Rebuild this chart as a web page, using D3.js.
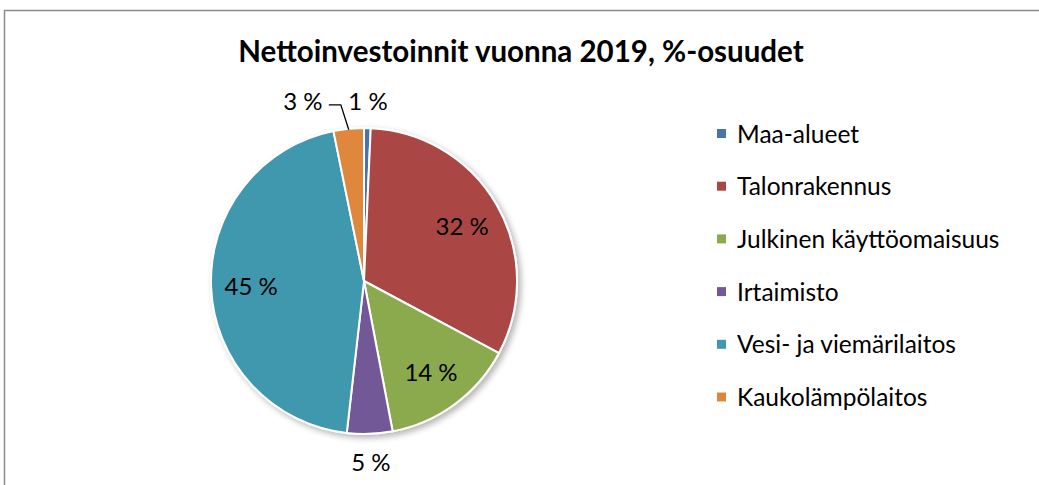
<!DOCTYPE html>
<html>
<head>
<meta charset="utf-8">
<script src="https://cdn.jsdelivr.net/npm/d3@7"></script>
<style>
  body { margin: 0; background: #fff; }
  text { font-family: Lato, "Liberation Sans", sans-serif; fill: #000; }
</style>
</head>
<body>
<div id="chart"></div>
<script>
const categories = ['Maa-alueet', 'Talonrakennus', 'Julkinen käyttöomaisuus', 'Irtaimisto', 'Vesi- ja viemärilaitos', 'Kaukolämpölaitos'];
const values = [0.7, 32.1, 14.2, 4.8, 45.0, 3.2];
const colors = ['#4674ab', '#aa4644', '#8baa4d', '#735897', '#4198af', '#de873c'];
const title = 'Nettoinvestoinnit vuonna 2019, %-osuudet';

const width = 1039, height = 485;
const cx = 364, cy = 281, R = 153;

const svg = d3.select('#chart').append('svg')
  .attr('width', width)
  .attr('height', height);

const defs = svg.append('defs');
const f = defs.append('filter').attr('id', 'shadow')
  .attr('x', '-20%').attr('y', '-20%').attr('width', '140%').attr('height', '140%');
f.append('feGaussianBlur').attr('in', 'SourceAlpha').attr('stdDeviation', 3);
f.append('feOffset').attr('dx', 3).attr('dy', 3).attr('result', 'b');
f.append('feComponentTransfer').append('feFuncA').attr('type', 'linear').attr('slope', 0.3);
const fm = f.append('feMerge');
fm.append('feMergeNode');
fm.append('feMergeNode').attr('in', 'SourceGraphic');

// chart frame
svg.append('rect')
  .attr('x', 4.5).attr('y', 10.5)
  .attr('width', width + 10).attr('height', height + 10)
  .attr('fill', 'none').attr('stroke', '#8c8c8c').attr('stroke-width', 1.5);

svg.append('text')
  .attr('x', 521).attr('y', 62)
  .attr('text-anchor', 'middle')
  .attr('font-size', 29.5).attr('font-weight', 'bold')
  .text(title);

const total = d3.sum(values);
const pie = d3.pie().sort(null).value(d => d)(values);
const arc = d3.arc().innerRadius(0).outerRadius(R);

const g = svg.append('g').attr('transform', `translate(${cx},${cy})`);

g.append('g').attr('filter', 'url(#shadow)')
  .selectAll('path')
  .data(pie)
  .enter()
  .append('path')
    .attr('d', arc)
    .attr('fill', (d, i) => colors[i])
    .attr('stroke', '#fff')
    .attr('stroke-width', 2)
    .attr('stroke-linejoin', 'round');

const inner = d3.arc().innerRadius(113).outerRadius(113);
const outer = d3.arc().innerRadius(181).outerRadius(181);
const edge = d3.arc().innerRadius(R - 1).outerRadius(R - 1);
const pct = v => Math.round(v / total * 100) + ' %';

// labels: big slices inside, small ones outside
pie.forEach((d, i) => {
  const big = d.value / total > 0.1;
  let [x, y] = (big ? inner : outer).centroid(d);
  const moved = i === 5; // the 3 % label was dragged aside in the original
  if (moved) x -= 43;
  g.append('text')
    .attr('x', x).attr('y', y)
    .attr('text-anchor', 'middle')
    .attr('dominant-baseline', 'central')
    .attr('font-size', 24)
    .text(pct(d.value));
  if (moved) {
    const [ex, ey] = edge.centroid(d);
    g.append('path')
      .attr('d', d3.line()([[x + 26, y + 4], [x + 38, y + 4], [ex, ey]]))
      .attr('fill', 'none').attr('stroke', '#000').attr('stroke-width', 1.3);
  }
});

const legend = svg.append('g').attr('transform', 'translate(717,133)');
const rows = legend.selectAll('g')
  .data(categories)
  .enter()
  .append('g')
    .attr('transform', (d, i) => `translate(0,${i * 52.7})`);
rows.append('rect')
  .attr('x', 0).attr('y', -4)
  .attr('width', 9).attr('height', 9)
  .attr('fill', (d, i) => colors[i]);
rows.append('text')
  .attr('x', 20).attr('y', 0)
  .attr('dominant-baseline', 'central')
  .attr('font-size', 24.5)
  .text(d => d);
</script>
</body>
</html>
